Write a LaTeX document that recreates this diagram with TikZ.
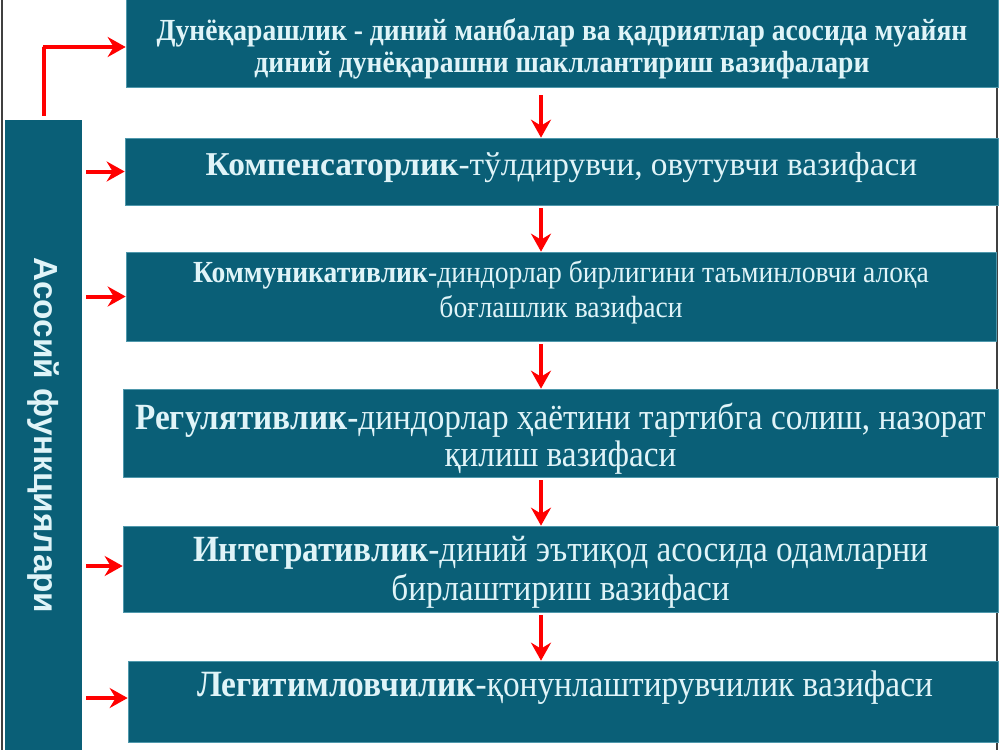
\documentclass[tikz,border=0pt]{standalone}
\usepackage{fontspec}
\setmainfont{Liberation Serif}
\newfontfamily\cond[FakeStretch=0.9]{Liberation Serif}
\newfontfamily\lsans{Liberation Sans}
\usetikzlibrary{arrows.meta,fit}
\definecolor{boxc}{HTML}{0A5F77}
\definecolor{boxedge}{HTML}{4F98AC}
\definecolor{txtc}{HTML}{E0F4F8}
\definecolor{arr}{HTML}{FF0000}
\begin{document}
\begin{tikzpicture}[x=0.75pt,y=-0.75pt,
  box/.style={fill=boxc, draw=boxedge, line width=0.5pt, inner sep=0pt, text=txtc, align=center},
  lbl/.style={text=txtc, align=center, inner sep=0pt},
  arrowline/.style={draw=arr, line width=3pt, -{Stealth[length=13.5pt,width=15pt,inset=4.5pt]}},
  edge/.style={draw=black!75, line width=1.2pt}]
\useasboundingbox (0,0) rectangle (1000,750);
\fill[white] (0,0) rectangle (1000,750);
\draw[edge] (2,0) -- (2,750);
\draw[edge] (997,0) -- (997,750);
% boxes
\node[box, fit={(126,-1)(998,87)}] (b1) {};
\node[box, fit={(125,138)(998,205)}] (b2) {};
\node[box, fit={(126,252)(996,341)}] (b3) {};
\node[box, fit={(123,389)(998,477)}] (b4) {};
\node[box, fit={(123,526)(998,612)}] (b5) {};
\node[box, fit={(128,661)(998,742)}] (b6) {};
\node[box, draw=none, fit={(5,120)(82,751)}] (lb) {};
\node[rotate=-90, text=txtc, font=\lsans\bfseries\fontsize{25}{30}\selectfont] at (lb.center) {Асосий функциялари};
% texts
\node[lbl, font=\cond\bfseries\fontsize{23}{24}\selectfont] at ([yshift=-4pt]b1.center)
  {Дунёқарашлик - диний манбалар ва қадриятлар асосида муайян\\диний дунёқарашни шакллантириш вазифалари};
\node[lbl, font=\fontsize{25}{28}\selectfont] at ([yshift=3pt]b2.center)
  {\textbf{Компенсаторлик}-тўлдирувчи, овутувчи вазифаси};
\node[lbl, font=\cond\fontsize{23}{26}\selectfont] at ([yshift=3pt]b3.center)
  {\textbf{Коммуникативлик}-диндорлар бирлигини таъминловчи алоқа\\боғлашлик вазифаси};
\node[lbl, font=\cond\fontsize{27.7}{27.8}\selectfont] at ([yshift=-4pt]b4.center)
  {\textbf{Регулятивлик}-диндорлар ҳаётини тартибга солиш, назорат\\қилиш вазифаси};
\node[lbl, font=\cond\fontsize{27.7}{29.5}\selectfont] at ([yshift=-2.5pt]b5.center)
  {\textbf{Интегративлик}-диний эътиқод асосида одамларни\\бирлаштириш вазифаси};
\node[lbl, font=\cond\fontsize{27.8}{28}\selectfont, anchor=center] at (565,688)
  {\textbf{Легитимловчилик}-қонунлаштирувчилик вазифаси};
% arrows
\coordinate (ax) at (541,0);
\draw[arrowline, shorten <=6pt] (b1.south -| ax) -- (b2.north -| ax);
\draw[arrowline, shorten <=2pt] (b2.south -| ax) -- (b3.north -| ax);
\draw[arrowline, shorten <=2pt] (b3.south -| ax) -- (b4.north -| ax);
\draw[arrowline, shorten <=2pt] (b4.south -| ax) -- (b5.north -| ax);
\draw[arrowline, shorten <=2pt] (b5.south -| ax) -- (b6.north -| ax);
\coordinate (turn) at (43,47);
\draw[arrowline, shorten <=3pt] (lb.north) |- (turn) -- (turn -| b1.west);
\draw[arrowline, shorten <=3pt] (lb.east |- b2.west) -- (b2.west);
\draw[arrowline, shorten <=3pt] (lb.east |- b3.west) -- (b3.west);
\coordinate (a5) at (0,566);
\draw[arrowline, shorten <=3pt] (lb.east |- a5) -- (b5.west |- a5);
\coordinate (a6) at (0,698);
\draw[arrowline, shorten <=3pt] (lb.east |- a6) -- (b6.west |- a6);
\end{tikzpicture}
\end{document}
